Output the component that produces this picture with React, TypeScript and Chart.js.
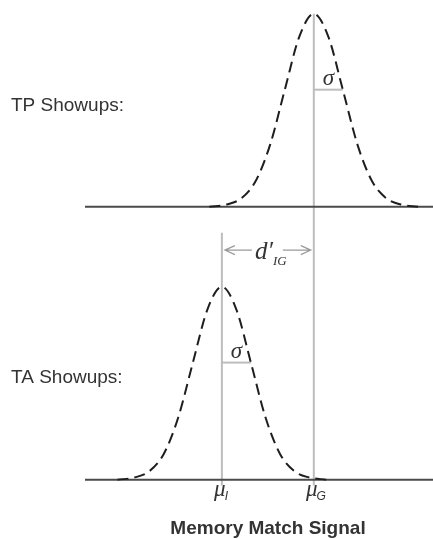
import React, { useEffect, useRef } from "react";
import { Chart, registerables } from "chart.js";

Chart.register(...registerables);

// Signal axis in units of sigma
const MU_I = 0;
const MU_G = 3.17;
const X_MIN = -4.72;
const X_MAX = 7.28;
// Vertical positions (peak height = 1)
const TA_BASE = 0;
const TP_BASE = 1.4145;
const MU_I_LINE_TOP = 1.28;
const ARROW_Y = 1.19;

// Offsets from mean (in sigma) and curve heights
const sigmaOffsets = [-3.6, -3, -2.5, -2, -1.5, -1, -0.5, 0, 0.5, 1, 1.5, 2, 2.5, 3, 3.6];
const curveHeights = [0.0, 0.012, 0.044, 0.135, 0.325, 0.607, 0.882, 1.0, 0.882, 0.607, 0.325, 0.135, 0.044, 0.012, 0.0];
const sigmaLevel = 0.607;

const rowLabels = ["TP Showups:", "TA Showups:"];
const axisTitle = "Memory Match Signal";

export default function App() {
  const ref = useRef<HTMLCanvasElement>(null);
  useEffect(() => {
    const canvas = ref.current!;
    const tpCurve = sigmaOffsets.map((o, i) => ({ x: MU_G + o, y: TP_BASE + curveHeights[i] }));
    const taCurve = sigmaOffsets.map((o, i) => ({ x: MU_I + o, y: TA_BASE + curveHeights[i] }));
    const dashed = {
      borderColor: "#1e1e1e",
      borderWidth: 2,
      borderDash: [11, 6],
      pointRadius: 0,
      fill: false,
      cubicInterpolationMode: "monotone" as const,
    };
    const gray = { borderColor: "#bdbdbd", borderWidth: 2, pointRadius: 0, fill: false };
    const dark = { borderColor: "#4a4a4a", borderWidth: 2, pointRadius: 0, fill: false };

    const labelsPlugin = {
      id: "labels",
      afterDatasetsDraw(chart: any) {
        const ctx = chart.ctx as CanvasRenderingContext2D;
        const xs = chart.scales.x;
        const ys = chart.scales.y;
        ctx.save();
        ctx.fillStyle = "#333";
        ctx.textAlign = "left";
        ctx.textBaseline = "alphabetic";
        ctx.font = "19px 'Liberation Sans', Arial, sans-serif";
        ctx.fillText(rowLabels[0], 11, 111);
        ctx.fillText(rowLabels[1], 11, 383);
        ctx.font = "bold 19px 'Liberation Sans', Arial, sans-serif";
        ctx.textAlign = "center";
        ctx.fillText(axisTitle, 268, 534);

        const xI = xs.getPixelForValue(MU_I);
        const xG = xs.getPixelForValue(MU_G);
        // mu labels
        const muLabel = (x: number, sub: string) => {
          ctx.font = "italic 23px 'Liberation Serif', serif";
          ctx.textAlign = "left";
          const w = ctx.measureText("μ").width;
          ctx.fillText("μ", x - w / 2 - 2, 496);
          ctx.font = "italic 12px 'Liberation Sans', Arial, sans-serif";
          ctx.fillText(sub, x + w / 2 - 3, 500);
        };
        muLabel(xI, "I");
        muLabel(xG, "G");

        // sigma labels
        ctx.font = "italic 23px 'Liberation Serif', serif";
        ctx.textAlign = "center";
        ctx.fillText("σ", xs.getPixelForValue(MU_G + 0.5), ys.getPixelForValue(TP_BASE + sigmaLevel) - 5);
        ctx.fillText("σ", xs.getPixelForValue(MU_I + 0.5), ys.getPixelForValue(TA_BASE + sigmaLevel) - 5);

        // d' arrow
        const ay = ys.getPixelForValue(ARROW_Y);
        ctx.strokeStyle = "#9a9a9a";
        ctx.lineWidth = 1.2;
        ctx.beginPath();
        ctx.moveTo(xI + 3, ay);
        ctx.lineTo(xI + 30, ay);
        ctx.moveTo(xI + 13, ay - 4.5);
        ctx.lineTo(xI + 3, ay);
        ctx.lineTo(xI + 13, ay + 4.5);
        ctx.moveTo(xG - 3, ay);
        ctx.lineTo(xG - 31, ay);
        ctx.moveTo(xG - 13, ay - 4.5);
        ctx.lineTo(xG - 3, ay);
        ctx.lineTo(xG - 13, ay + 4.5);
        ctx.stroke();
        ctx.fillStyle = "#333";
        ctx.textAlign = "left";
        ctx.font = "italic 25px 'Liberation Serif', serif";
        ctx.fillText("d′", xI + 33, ay + 9);
        ctx.font = "italic 13px 'Liberation Serif', serif";
        ctx.fillText("IG", xI + 51, ay + 15);
        ctx.restore();
      },
    };

    const chart = new Chart(canvas, {
      type: "line",
      data: {
        datasets: [
          { ...dashed, data: tpCurve },
          { ...dashed, data: taCurve },
          { ...dark, data: [{ x: X_MIN, y: TP_BASE }, { x: X_MAX, y: TP_BASE }] },
          { ...dark, data: [{ x: X_MIN, y: TA_BASE }, { x: X_MAX, y: TA_BASE }] },
          { ...gray, data: [{ x: MU_G, y: TP_BASE + sigmaLevel }, { x: MU_G + 1, y: TP_BASE + sigmaLevel }] },
          { ...gray, data: [{ x: MU_I, y: TA_BASE + sigmaLevel }, { x: MU_I + 1, y: TA_BASE + sigmaLevel }] },
          { ...gray, data: [{ x: MU_G, y: -0.03 }, { x: MU_G, y: TP_BASE + 1 }] },
          { ...gray, data: [{ x: MU_I, y: -0.03 }, { x: MU_I, y: MU_I_LINE_TOP }] },
        ],
      },
      options: {
        animation: false,
        responsive: false,
        maintainAspectRatio: false,
        layout: { padding: { left: 85, right: 0, top: 7, bottom: 40 } },
        plugins: { legend: { display: false }, tooltip: { enabled: false } },
        scales: {
          x: { type: "linear", min: X_MIN, max: X_MAX, display: false },
          y: { type: "linear", min: -0.1, max: 2.45, display: false },
        },
      },
      plugins: [labelsPlugin],
    });
    return () => chart.destroy();
  }, []);
  return (
    <div style={{ position: "fixed", left: 0, top: 0, width: 433, height: 539, background: "#fff" }}>
      <canvas ref={ref} width={433} height={539} style={{ width: 433, height: 539 }} />
    </div>
  );
}
